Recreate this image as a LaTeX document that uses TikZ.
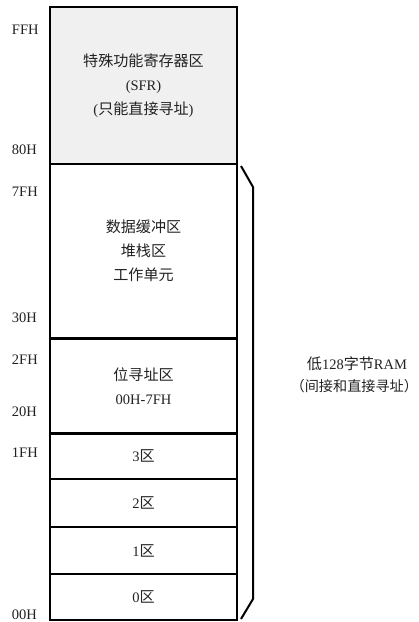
\documentclass[tikz,border=0pt]{standalone}
\usepackage{fontspec}
\setmainfont{Liberation Serif}
\newfontfamily\cjk{Noto Sans CJK SC}[Scale=1.04]
\definecolor{sfrgray}{HTML}{F0F0F0}
\definecolor{txt}{HTML}{222222}
\begin{document}
\begin{tikzpicture}[x=1pt,y=-1pt,
  every node/.style={inner sep=0pt,outer sep=0pt,text=txt,font=\fontsize{14.5}{24}\selectfont},
  cell/.style={draw=black,line width=2pt,minimum width=187pt,align=center},
  addr/.style={anchor=west},
  bracket/.style={draw=black,line width=2pt,line join=miter}]
\useasboundingbox (0,0) rectangle (419,622);
% memory cells
\node[cell,fill=sfrgray,minimum height=157pt] (sfr) at (143.5,85.5)
  {{\cjk 特殊功能寄存器区}\\(SFR)\\({\cjk 只能直接寻址})};
\node[cell,minimum height=174pt] (buf) at (143.5,251)
  {{\cjk 数据缓冲区}\\{\cjk 堆栈区}\\{\cjk 工作单元}};
\node[cell,minimum height=95pt] (bit) at (143.5,386)
  {{\cjk 位寻址区}\\00H-7FH};
\node[cell,minimum height=46pt] (r3) at (143.5,456) {3{\cjk 区}};
\node[cell,minimum height=48pt] (r2) at (143.5,503) {2{\cjk 区}};
\node[cell,minimum height=47pt] (r1) at (143.5,550.5) {1{\cjk 区}};
\node[cell,minimum height=46pt] (r0) at (143.5,597) {0{\cjk 区}};
% address labels
\node[addr] (aFF) at (12,30) {FFH};
\node[addr] (a80) at (12,150) {80H};
\node[addr] (a7F) at (12,192) {7FH};
\node[addr] (a30) at (12,318) {30H};
\node[addr] (a2F) at (12,360) {2FH};
\node[addr] (a20) at (12,412) {20H};
\node[addr] (a1F) at (12,453) {1FH};
\node[addr] (a00) at (12,615) {00H};
% bracket
\coordinate (b1) at (241,166);
\coordinate (b2) at (253,187);
\coordinate (b3) at (253,599);
\coordinate (b4) at (241,619);
\draw[bracket] (b1) -- (b2) -- (b3) -- (b4);
% right label
\node (ram) at (357,364) {{\cjk 低}128{\cjk 字节}RAM};
\node[anchor=east,font=\fontsize{13.6}{20}\selectfont] (ramsub) at (418,386) {\cjk （间接和直接寻址）};
\end{tikzpicture}
\end{document}
